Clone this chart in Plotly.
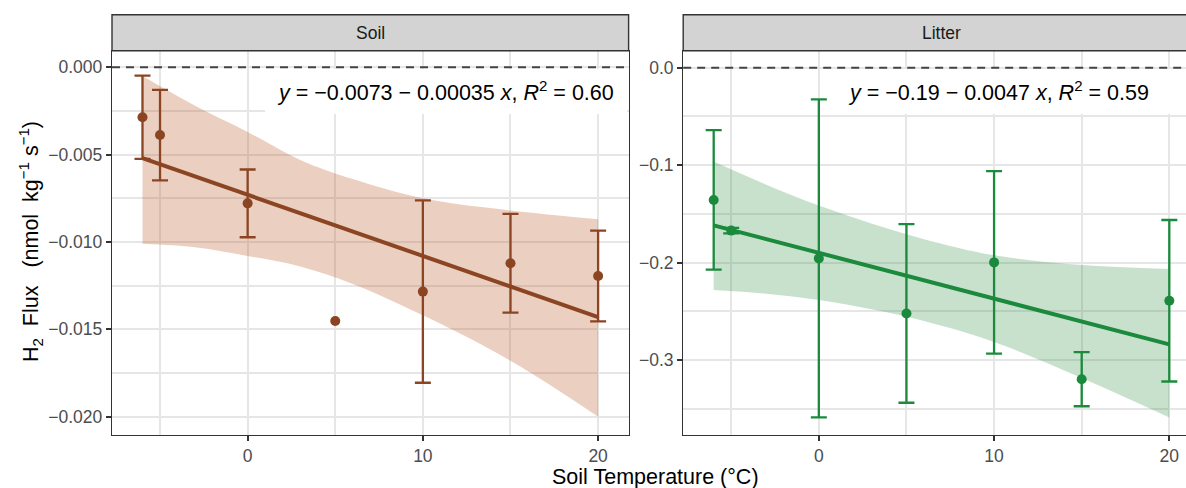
import plotly.graph_objects as go

# ---------------- data ----------------
temps = [-6, -5, 0, 5, 10, 15, 20]
soil_mean = [-0.00286, -0.00388, -0.00779, -0.01452, -0.01284, -0.01122, -0.01195]
soil_se = [0.00238, 0.00259, 0.00194, None, 0.00522, 0.00283, 0.00260]
litter_mean = [-0.1357, -0.1672, -0.1957, -0.2522, -0.1998, -0.3197, -0.2392]
litter_se = [0.0716, 0.0029, 0.1632, 0.0917, 0.0937, 0.0278, 0.0829]

fit_x = [-6, 20]
soil_fit = [-0.0052, -0.0143]
litter_fit = [-0.1618, -0.2840]

band_x = [-6, -3, 0, 3, 6, 10, 15, 20]
soil_upper = [-0.0005, -0.0022, -0.0037, -0.0053, -0.0064, -0.0075, -0.0082, -0.0087]
soil_lower = [-0.0101, -0.0103, -0.0108, -0.0114, -0.0124, -0.0142, -0.0168, -0.0200]
litter_upper = [-0.0963, -0.1200, -0.1415, -0.1600, -0.1760, -0.1925, -0.2025, -0.2065]
litter_lower = [-0.2282, -0.2320, -0.2385, -0.2480, -0.2600, -0.2815, -0.3185, -0.3590]

panels = ["Soil", "Litter"]
equations = ["<i>y</i> = \u22120.0073 \u2212 0.00035 <i>x</i>, <i>R</i><sup>2</sup> = 0.60",
             "<i>y</i> = \u22120.19 \u2212 0.0047 <i>x</i>, <i>R</i><sup>2</sup> = 0.59"]
x_ticks = [0, 10, 20]
soil_yticks = [0.0, -0.005, -0.010, -0.015, -0.020]
soil_yticktext = ["0.000", "\u22120.005", "\u22120.010", "\u22120.015", "\u22120.020"]
litter_yticks = [0.0, -0.1, -0.2, -0.3]
litter_yticktext = ["0.0", "\u22120.1", "\u22120.2", "\u22120.3"]

# ---------------- styling ----------------
W, H = 1186, 488
FONT = "Liberation Sans, Arial, Helvetica, sans-serif"
BROWN = "#8B4522"
BROWN_FILL = "rgba(190,95,45,0.30)"
GREEN = "#1B8A3C"
GREEN_FILL = "rgba(35,135,55,0.25)"
GRID = "#E6E6E6"
DARK = "#333333"

def px(x):
    return x / W

def py(y):
    return 1 - y / H

fig = go.Figure()

def add_panel(xa, ya, mean, se, fit, upper, lower, color, fill):
    fig.add_trace(go.Scatter(x=band_x, y=lower, mode="lines", line=dict(width=0, shape="spline"),
                             hoverinfo="skip", showlegend=False, xaxis=xa, yaxis=ya))
    fig.add_trace(go.Scatter(x=band_x, y=upper, mode="lines", line=dict(width=0, shape="spline"),
                             fill="tonexty", fillcolor=fill, hoverinfo="skip", showlegend=False,
                             xaxis=xa, yaxis=ya))
    fig.add_trace(go.Scatter(x=fit_x, y=fit, mode="lines", line=dict(color=color, width=4),
                             showlegend=False, xaxis=xa, yaxis=ya))
    fig.add_trace(go.Scatter(x=temps, y=mean, mode="markers",
                             marker=dict(color=color, size=10), showlegend=False, xaxis=xa, yaxis=ya))
    ex = [t for t, s in zip(temps, se) if s is not None]
    ey = [m for m, s in zip(mean, se) if s is not None]
    es = [s for s in se if s is not None]
    fig.add_trace(go.Scatter(x=ex, y=ey, mode="markers", marker=dict(size=1, color="rgba(0,0,0,0)"),
                             error_y=dict(type="data", array=es, visible=True, color=color,
                                          thickness=2.3, width=8),
                             showlegend=False, xaxis=xa, yaxis=ya))

add_panel("x", "y", soil_mean, soil_se, soil_fit, soil_upper, soil_lower, BROWN, BROWN_FILL)
add_panel("x2", "y2", litter_mean, litter_se, litter_fit, litter_upper, litter_lower, GREEN, GREEN_FILL)

tickfont = dict(family=FONT, size=17.5, color="#4D4D4D")
common_x = dict(tickvals=x_ticks, ticktext=[str(v) for v in x_ticks], showgrid=True, gridcolor=GRID,
                gridwidth=2.1, minor=dict(dtick=5, tick0=0, showgrid=True, gridcolor=GRID, gridwidth=1.6,
                                          ticklen=0),
                ticks="outside", ticklen=5, tickwidth=1.6, tickcolor=DARK, showline=True,
                linecolor=DARK, linewidth=1.4, zeroline=False, tickfont=tickfont, fixedrange=True)
common_y = dict(showgrid=True, gridcolor=GRID, gridwidth=2.1, ticks="outside", ticklen=5, tickwidth=1.6,
                tickcolor=DARK, showline=True, linecolor=DARK, linewidth=1.4, zeroline=False,
                tickfont=tickfont)

x0L, x1L = 112, 628.6
x0R, x1R = 683.2, 1199.8
yT, yB = 50.7, 435
xrange_full = [-7.74, 21.74]
units_per_px = (xrange_full[1] - xrange_full[0]) / (x1L - x0L)

fig.update_layout(
    width=W, height=H, autosize=False, margin=dict(l=0, r=0, t=0, b=0, pad=0),
    paper_bgcolor="white", plot_bgcolor="white", showlegend=False,
    font=dict(family=FONT),
    xaxis=dict(domain=[px(x0L), px(x1L)], range=xrange_full, mirror=True, anchor="y", **common_x),
    xaxis2=dict(domain=[px(x0R), 1.0],
                range=[xrange_full[0], xrange_full[0] + (W - x0R) * units_per_px],
                mirror=True, anchor="y2", **common_x),
    yaxis=dict(domain=[py(yB), py(yT)], range=[-0.02105, 0.00095], tickvals=soil_yticks,
               ticktext=soil_yticktext, mirror=True, anchor="x",
               minor=dict(dtick=0.0025, tick0=0, showgrid=True, gridcolor=GRID, gridwidth=1.6, ticklen=0),
               **common_y),
    yaxis2=dict(domain=[py(yB), py(yT)], range=[-0.377, 0.0175], tickvals=litter_yticks,
                ticktext=litter_yticktext, mirror=False, anchor="x2",
                minor=dict(dtick=0.05, tick0=0, showgrid=True, gridcolor=GRID, gridwidth=1.6, ticklen=0),
                **common_y),
)

shapes = []
annotations = []
# dashed zero lines
for xr, yr in [("x domain", "y"), ("x2 domain", "y2")]:
    shapes.append(dict(type="line", xref=xr, yref=yr, x0=0, x1=1, y0=0, y1=0,
                       line=dict(color="#444444", width=1.9, dash="8px,6px"), layer="above"))
# white label boxes behind equations
for bx0, bx1 in [(265, 627), (836, 1195)]:
    shapes.append(dict(type="rect", xref="paper", yref="paper", x0=px(bx0), x1=px(bx1),
                       y0=py(114), y1=py(69), fillcolor="white", line=dict(width=0), layer="above"))
# strips
for sx0, sx1 in [(x0L, x1L), (x0R, x1R + 5)]:
    shapes.append(dict(type="rect", xref="paper", yref="paper", x0=px(sx0), x1=px(sx1),
                       y0=py(yT), y1=py(14.7), fillcolor="#D2D3D2",
                       line=dict(color=DARK, width=1.4), layer="above"))
for name, cx in zip(panels, [(x0L + x1L) / 2, (x0R + x1R) / 2]):
    annotations.append(dict(text=name, x=px(cx), y=py(32.7), xref="paper", yref="paper",
                            xanchor="center", yanchor="middle", showarrow=False,
                            font=dict(family=FONT, size=17.5, color="#1A1A1A")))
for eq, ex in zip(equations, [616, 1151]):
    annotations.append(dict(text=eq, x=px(ex), y=py(90.5), xref="paper", yref="paper",
                            xanchor="right", yanchor="middle", showarrow=False,
                            font=dict(family=FONT, size=21.5, color="black")))
annotations.append(dict(text="Soil Temperature (\u00b0C)", x=px((x0L + x1R) / 2), y=py(476.5),
                        xref="paper", yref="paper", xanchor="center", yanchor="middle", showarrow=False,
                        font=dict(family=FONT, size=21.5, color="black")))
annotations.append(dict(text="H<sub>2</sub>&nbsp;&nbsp;Flux&nbsp;&nbsp;&nbsp;(nmol&nbsp;&nbsp;kg<sup>\u22121</sup>&nbsp;s<sup>\u22121</sup>)",
                        x=px(30), y=py(242), xref="paper", yref="paper", xanchor="center",
                        yanchor="middle", textangle=-90, showarrow=False,
                        font=dict(family=FONT, size=21.5, color="black")))
fig.update_layout(shapes=shapes, annotations=annotations)

fig.write_html("out.html")
